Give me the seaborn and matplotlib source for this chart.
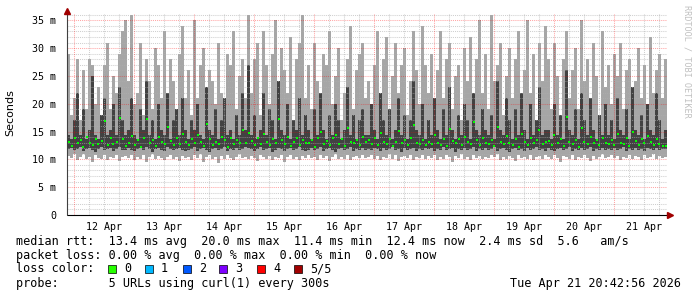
import numpy as np
import pandas as pd
import matplotlib
matplotlib.use("Agg")
import matplotlib.pyplot as plt
import seaborn as sns

# ---------------- data (milliseconds, one value per ~72 min column) ----------------
start_day = 0.883          # days after 11 Apr 00:00 (first column)
col_days = 0.05            # width of one column in days

rtt_max = [
    29,18,21,28,17,26,19,28,27,20,23,18,27,31,19,25,22,29,33,35,
    24,36,20,22,31,18,28,24,19,30,27,21,33,17,28,24,19,29,34,21,
    26,18,35,21,27,30,17,26,24,20,31,22,18,29,27,33,19,25,28,21,
    36,22,28,31,18,33,27,20,29,35,19,30,26,22,32,17,28,31,36,21,
    27,19,31,24,18,29,27,33,20,25,30,17,22,28,34,19,26,29,31,21,
    24,18,27,33,20,28,32,19,25,31,22,27,30,18,24,33,26,20,34,27,
    22,29,18,26,33,21,28,31,19,25,27,17,30,24,32,20,28,35,22,29,
    19,36,24,27,31,18,25,30,21,28,33,20,26,35,22,29,17,31,24,34,
    28,19,31,25,18,28,33,21,26,30,19,35,24,28,20,31,25,18,33,23,
    27,20,29,25,31,19,26,28,18,24,30,21,27,17,32,22,26,29,21,28,
]
rtt_upper = [
    14.4,13.6,17,22,14.4,19,13.6,15.2,25,14.4,13.6,18,21,14.4,15.2,20,14.4,23,17,14.4,
    15.2,21,14.4,13.6,19,15.2,24,14.4,17,13.6,20,15.2,14.4,22,13.6,17,19,14.4,21,15.2,
    13.6,17,15.2,20,14.4,13.6,23,15.2,14.4,19,13.6,17,21,14.4,15.2,13.6,18,14.4,22,15.2,
    27,14.4,18,13.6,15.2,22,14.4,19,17,13.6,24,15.2,14.4,20,13.6,17,15.2,21,14.4,18,
    15.2,13.6,19,14.4,22,15.2,13.6,18,14.4,20,17,13.6,15.2,23,14.4,18,13.6,17,19,14.4,
    14.4,20,15.2,13.6,22,17,14.4,19,13.6,15.2,21,14.4,18,13.6,17,24,15.2,14.4,20,13.6,
    17,14.4,21,15.2,13.6,19,14.4,23,15.2,13.6,18,14.4,20,17,13.6,22,15.2,14.4,19,15.2,
    14.4,18,13.6,24,15.2,14.4,21,17,13.6,19,14.4,22,15.2,13.6,20,14.4,17,23,14.4,15.2,
    15.2,13.6,20,14.4,18,13.6,26,15.2,14.4,19,13.6,22,17,14.4,21,15.2,13.6,18,14.4,20,
    14.4,17,13.6,21,15.2,14.4,19,13.6,23,15.2,14.4,18,13.6,20,15.2,14.4,22,17,13.6,15.2,
]
rtt_median = [
    13.1,12.4,13.8,12.9,13.5,12.2,14.1,13.0,12.6,13.7,12.8,13.3,16.9,12.5,13.9,12.7,13.2,17.5,13.6,12.4,
    13.0,14.2,12.6,13.4,12.3,13.8,17.2,12.9,13.5,12.4,14.0,13.1,12.7,15.8,13.3,12.5,13.9,12.8,14.6,13.2,
    12.5,13.6,12.9,14.3,13.1,12.4,16.4,13.7,12.6,13.2,12.8,14.1,13.4,12.3,13.8,12.7,13.5,12.9,15.2,13.0,
    14.8,13.3,12.6,13.9,12.8,14.5,13.1,12.5,13.6,12.9,17.3,13.4,12.7,14.0,12.4,13.2,13.8,12.6,13.5,13.0,
    12.9,13.5,12.3,13.8,14.9,12.7,13.3,12.5,13.9,14.4,12.8,13.6,12.4,15.6,13.1,12.9,13.4,12.6,14.1,13.2,
    13.4,12.7,13.9,12.5,14.7,13.2,12.8,13.6,12.4,13.1,15.1,12.9,13.5,12.6,13.8,16.2,13.0,12.7,13.4,12.5,
    13.2,12.8,14.3,13.0,12.6,13.7,12.4,15.4,13.3,12.9,13.6,12.5,14.0,13.1,12.7,16.8,13.4,12.6,13.9,13.0,
    12.7,13.5,12.4,15.9,13.2,12.8,14.2,13.0,12.5,13.7,12.3,14.6,13.1,12.6,13.8,12.9,13.4,15.3,12.7,13.2,
    13.3,12.6,14.4,12.9,13.6,12.4,17.6,13.1,12.8,13.5,12.3,15.7,13.2,12.7,14.1,12.9,13.4,12.6,13.9,13.0,
    12.8,13.4,12.5,14.6,13.0,12.7,13.8,12.4,15.0,13.3,12.6,13.7,12.9,14.2,13.1,12.5,13.6,12.8,12.4,12.4,
]
rtt_lower = [
    11.8,12.1,11.6,11.9,12.2,11.5,11.8,12.0,11.7,11.4,11.9,12.2,11.6,11.8,12.0,11.5,11.9,12.3,11.7,11.6,
    12.0,11.7,11.5,11.9,12.1,11.6,12.3,11.8,11.4,11.9,12.0,11.7,11.5,12.2,11.8,11.6,11.9,12.1,11.7,11.5,
    11.6,11.9,12.2,11.5,11.8,12.0,11.7,11.4,11.9,12.1,11.6,11.8,12.3,11.5,11.9,11.7,12.0,11.6,11.8,12.2,
    12.1,11.8,11.5,11.9,12.2,11.6,11.8,12.0,11.4,11.7,12.1,11.9,11.5,11.8,12.0,11.6,11.9,12.2,11.7,11.5,
    11.7,12.0,11.6,11.8,12.2,11.5,11.9,12.1,11.7,11.4,11.8,12.0,11.6,11.9,12.3,11.5,11.8,11.7,12.0,11.6,
    11.9,11.6,12.1,11.8,11.5,12.0,11.7,11.9,12.2,11.6,11.8,11.4,12.0,11.7,11.9,12.1,11.5,11.8,11.6,12.0,
    11.8,12.1,11.5,11.9,11.7,12.2,11.6,11.8,12.0,11.4,11.9,11.7,12.1,11.6,11.8,12.3,11.5,11.9,11.7,12.0,
    11.6,11.9,12.2,11.5,11.8,12.0,11.7,11.4,11.9,12.1,11.6,11.8,11.5,12.0,11.7,11.9,12.2,11.6,11.8,11.5,
    12.0,11.7,11.5,11.9,12.1,11.6,11.8,12.3,11.5,11.9,11.7,12.0,11.6,11.8,12.2,11.5,11.9,11.7,12.1,11.6,
    11.8,11.6,12.0,11.7,11.9,12.2,11.5,11.8,11.6,12.0,11.7,11.9,11.5,12.1,11.8,11.6,12.0,11.7,11.9,11.8,
]
rtt_min = [
    10.6,10.2,11.0,9.8,10.5,10.9,10.1,10.4,9.6,10.8,10.3,10.0,10.7,9.9,10.5,10.2,10.8,9.7,10.4,10.6,
    10.3,10.8,9.9,10.5,10.1,10.7,9.5,10.4,10.9,10.0,10.6,10.2,9.8,10.5,10.8,10.1,10.4,9.7,10.6,10.3,
    10.5,9.9,10.7,10.2,10.9,9.6,10.4,10.8,10.1,10.5,9.3,10.6,10.0,10.7,10.3,9.8,10.5,10.9,10.2,10.4,
    10.1,10.6,10.3,9.7,10.8,10.4,10.0,10.6,9.9,10.5,10.2,10.8,9.6,10.4,10.7,10.1,10.5,9.8,10.6,10.3,
    10.7,10.2,10.5,9.9,10.8,10.3,10.6,9.7,10.4,10.9,10.1,10.5,10.0,10.7,9.8,10.4,10.6,10.2,10.8,10.3,
    10.4,10.8,10.1,10.6,9.8,10.5,10.3,10.9,10.0,10.7,9.7,10.4,10.6,10.2,10.8,9.9,10.5,10.3,10.7,10.1,
    10.6,10.3,10.8,9.9,10.5,10.1,10.7,10.4,9.6,10.6,10.2,10.9,10.0,10.5,9.8,10.7,10.3,10.6,10.1,10.4,
    10.2,10.7,10.4,10.9,9.8,10.5,10.1,10.6,10.3,9.7,10.8,10.2,10.5,10.0,10.7,9.9,10.4,10.6,10.1,10.8,
    10.5,10.1,10.8,10.3,9.6,10.6,10.4,10.0,10.7,9.9,10.5,10.2,10.8,10.3,9.7,10.6,10.1,10.5,10.9,10.2,
    10.4,10.7,10.2,10.6,9.9,10.5,10.3,10.8,10.0,10.6,10.4,9.8,10.7,10.2,10.5,10.9,10.1,10.6,10.3,10.5,
]

day_labels = ["12 Apr", "13 Apr", "14 Apr", "15 Apr", "16 Apr",
              "17 Apr", "18 Apr", "19 Apr", "20 Apr", "21 Apr"]
ytick_values = [0, 5, 10, 15, 20, 25, 30, 35]
ytick_labels = ["0", "5 m", "10 m", "15 m", "20 m", "25 m", "30 m", "35 m"]

rtt_row = "median rtt:  13.4 ms avg  20.0 ms max  11.4 ms min  12.4 ms now  2.4 ms sd  5.6   am/s"
loss_row = "packet loss: 0.00 % avg  0.00 % max  0.00 % min  0.00 % now"
loss_color_label = "loss color:"
loss_classes = ["0", "1", "2", "3", "4", "5/5"]
loss_colors = ["#26ff00", "#00b8ff", "#0059ff", "#7e00ff", "#ff0000", "#a10000"]
probe_row = "probe:       5 URLs using curl(1) every 300s"
timestamp = "Tue Apr 21 20:42:56 2026"
watermark = "RRDTOOL / TOBI OETIKER"

# ---------------- figure ----------------
sns.set_theme(style="white")
plt.rcParams["font.family"] = ["DejaVu Sans Mono"]

W, H = 697, 297
fig = plt.figure(figsize=(W / 100, H / 100), dpi=100)
fig.patch.set_facecolor("white")

ax_left, ax_right, ax_bottom, ax_top = 67, 667, 215, 14
ax = fig.add_axes([ax_left / W, 1 - ax_bottom / H,
                   (ax_right - ax_left) / W, (ax_bottom - ax_top) / H])
ax.set_facecolor("white")

n = len(rtt_max)
x0 = start_day
x1 = start_day + n * col_days
ymax = 35 * (ax_bottom - ax_top) / (ax_bottom - 20.3)

edges = start_day + col_days * np.arange(n + 1)
centers = start_day + col_days * (np.arange(n) + 0.5)
df = pd.DataFrame({"t": centers, "median": rtt_median})

def ext(v):
    return list(v) + [v[-1]]

ax.fill_between(edges, ext(rtt_min), ext(rtt_max), step="post",
                color="#a6a6a6", lw=0, antialiased=False, zorder=1)
ax.fill_between(edges, ext(rtt_lower), ext(rtt_upper), step="post",
                color="#424242", lw=0, antialiased=False, zorder=1.2)

# grid (drawn over the smoke, like rrdtool)
for yv in range(1, 37):
    if yv % 5 == 0:
        ax.axhline(yv, color="#ff0000", alpha=0.35, lw=0.75, ls=(0, (1, 1)), zorder=2)
    else:
        ax.axhline(yv, color="#b0b0b0", alpha=0.6, lw=0.75, ls=(0, (1, 1)), zorder=2)
for q in range(4, 44):
    xv = q * 0.25
    if xv <= x0 or xv >= x1:
        continue
    if q % 4 == 0:
        ax.axvline(xv, color="#ff0000", alpha=0.35, lw=0.75, ls=(0, (1, 1)), zorder=2)
    else:
        ax.axvline(xv, color="#b0b0b0", alpha=0.6, lw=0.75, ls=(0, (1, 1)), zorder=2)

sns.scatterplot(data=df, x="t", y="median", marker="s", s=3.2, color="#00ff00",
                linewidth=0, ax=ax, zorder=4, legend=False)

ax.set_xlim(x0, x1)
ax.set_ylim(0, ymax)
for s in ax.spines.values():
    s.set_visible(False)
ax.set_xlabel("")
ax.set_ylabel("")

ax.set_xticks([1.5 + i for i in range(len(day_labels))])
ax.set_xticklabels(day_labels, fontsize=7.2, color="black")
ax.set_yticks(ytick_values)
ax.set_yticklabels(ytick_labels, fontsize=7.2, color="black")
ax.tick_params(axis="x", length=0, pad=5)
ax.tick_params(axis="y", length=0, pad=8)

# axes lines with arrows
ax.plot([x0, x1 + 0.05], [0, 0], color="black", lw=0.8, clip_on=False, zorder=5)
ax.plot([x0, x0], [0, ymax + 0.45], color="#404040", lw=0.8, clip_on=False, zorder=5)
ax.plot([x0], [ymax + 0.6], marker="^", ms=4, color="#a00000", clip_on=False, zorder=6)
ax.plot([x1 + 0.055], [0], marker=">", ms=4, color="#a00000", clip_on=False, zorder=6)

fig.text(10 / W, 1 - 113 / H, "Seconds", rotation=90, ha="center", va="center",
         fontsize=8, family="DejaVu Sans", color="black")
fig.text(687 / W, 1 - 5 / H, watermark, rotation=270, ha="center", va="top",
         fontsize=6.1, color="#c0c0c0")

# ---------------- legend text ----------------
fs = 8.5
row_y = [241, 255, 269, 283]

def put(xp, yp, s, ha="left"):
    fig.text(xp / W, 1 - yp / H, s, ha=ha, va="center", fontsize=fs, color="black")

put(16, row_y[0], rtt_row)
put(16, row_y[1], loss_row)
put(16, row_y[2], loss_color_label)
box_x = [108, 145, 183, 219, 257, 294]
for bx, lab, c in zip(box_x, loss_classes, loss_colors):
    fig.patches.append(plt.Rectangle((bx / W, 1 - 273 / H), 8 / W, 8 / H,
                                     transform=fig.transFigure, facecolor=c,
                                     edgecolor="black", lw=0.5, figure=fig))
    put(bx + 16, row_y[2], lab)
put(16, row_y[3], probe_row)
put(681, row_y[3], timestamp, ha="right")

fig.savefig("out.png", dpi=100, facecolor="white")
